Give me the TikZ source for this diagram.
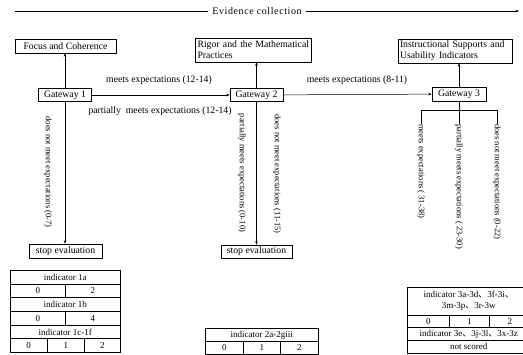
\documentclass[tikz,border=0pt]{standalone}
\usepackage{fontspec}
\setmainfont{Liberation Serif}
\newfontfamily\cjk{Noto Sans CJK SC}
\usetikzlibrary{arrows.meta}
\begin{document}
\begin{tikzpicture}[x=1pt,y=-1pt,
  every node/.style={font=\fontsize{9.75}{11}\selectfont, inner sep=1pt},
  box/.style={draw, line width=0.5pt, inner sep=2pt},
  arr/.style={-{Stealth[length=3.5pt,width=2.6pt]}, line width=0.5pt},
  ln/.style={line width=0.5pt},
  vlab/.style={rotate=-90, inner sep=0pt, font=\fontsize{8.5}{10}\selectfont},
  cell/.style={draw, line width=0.5pt, anchor=north west, inner sep=0pt,
    font=\fontsize{9}{11}\selectfont},
]
\useasboundingbox (0,0) rectangle (523,355);
\clip (0,0) rectangle (523,355);

% timeline across the top
\coordinate (evs) at (15,11);
\coordinate (eve) at (519,11);
\draw[arr] (evs) -- (eve);
\node[fill=white, inner xsep=4pt, font=\fontsize{10}{12}\selectfont\addfontfeature{LetterSpace=6}]
  (evlab) at (257,11) {Evidence collection};

% criteria boxes
\node[box, minimum width=101, minimum height=14] (focus) at (65.5,46) {Focus and Coherence};
\node[box, text width=112, minimum height=24, align=left] (rigor) at (253.5,50)
  {Rigor and the Mathematical\\Practices};
\node[box, text width=110, minimum height=23, align=left] (isu) at (455,51)
  {Instructional Supports and\\Usability Indicators};

% gateways
\node[box, minimum width=53, minimum height=13] (gw1) at (65,95) {Gateway 1};
\node[box, minimum width=53, minimum height=13] (gw2) at (256.5,95) {Gateway 2};
\node[box, minimum width=54, minimum height=14] (gw3) at (459,94) {Gateway 3};

% stop boxes
\node[box, minimum width=73, minimum height=14] (stop1) at (65.5,251) {stop evaluation};
\node[box, minimum width=71, minimum height=13] (stop2) at (256.5,251.5) {stop evaluation};

% connectors
\draw[arr] (gw1) -- (gw1 |- focus.south);
\draw[arr] (gw2) -- (gw2 |- rigor.south);
\draw[arr] (gw3) -- (gw3 |- isu.south);
\draw[arr] (gw1) -- (gw2);
\draw[arr] (gw2) -- (gw3);
\draw[arr] (gw1) -- (gw1 |- stop1.north);
\draw[arr] (gw2) -- (gw2 |- stop2.north);

% horizontal labels
\node (m12) at (159,80) {meets expectations (12-14)};
\node (p12) at (160,111) {partially\ \ meets expectations (12-14)};
\node (m8) at (357,80) {meets expectations (8-11)};

% vertical labels beside the stop arrows
\node[vlab] (d07) at (48,172) {does not meet expectations (0-7)};
\node[vlab] (p010) at (242,173) {partially meets expectations (0-10)};
\node[vlab] (d1115) at (277,174) {does not meet expectations (11-15)};

% gateway 3 outcomes
\node[vlab, anchor=west] (m3) at (421,124) {meets expectations ( 31-38)};
\node[vlab, anchor=west] (p3) at (459,124) {partially meets expectations ( 23-30)};
\node[vlab, anchor=west] (d3) at (497,124) {does not meet expectations (0-22)};
\coordinate (bus) at (459,110);
\draw[ln] (gw3.south) -- (p3.west);
\draw[ln] (m3.west) -- (m3.west |- bus) -- (d3.west |- bus) -- (d3.west);

% indicator table, gateway 1
\node[cell, minimum width=110, minimum height=13.7] (t1a) at (10,270) {indicator 1a};
\node[cell, minimum width=55, minimum height=13.7] (t1a0) at (10,283.7) {0};
\node[cell, minimum width=55, minimum height=13.7] (t1a2) at (65,283.7) {2};
\node[cell, minimum width=110, minimum height=13.7] (t1b) at (10,297.4) {indicator 1b};
\node[cell, minimum width=55, minimum height=13.7] (t1b0) at (10,311.1) {0};
\node[cell, minimum width=55, minimum height=13.7] (t1b4) at (65,311.1) {4};
\node[cell, minimum width=110, minimum height=13.7] (t1c) at (10,324.8) {indicator 1c-1f};
\node[cell, minimum width=37, minimum height=13.7] (t1c0) at (10,338.5) {0};
\node[cell, minimum width=37, minimum height=13.7] (t1c1) at (47,338.5) {1};
\node[cell, minimum width=36, minimum height=13.7] (t1c2) at (84,338.5) {2};

% indicator table, gateway 2
\node[cell, minimum width=113, minimum height=12.5] (t2a) at (205,328.5) {indicator 2a-2giii};
\node[cell, minimum width=38, minimum height=13] (t2a0) at (205,341) {0};
\node[cell, minimum width=37, minimum height=13] (t2a1) at (243,341) {1};
\node[cell, minimum width=38, minimum height=13] (t2a2) at (280,341) {2};

% indicator table, gateway 3
\node[cell, minimum width=123, minimum height=28, align=center] (t3a) at (407,287)
  {indicator 3a-3d{\cjk 、}3f-3i{\cjk 、}\\3m-3p{\cjk 、}3r-3w};
\node[cell, minimum width=42, minimum height=12.5] (t3a0) at (407,315) {0};
\node[cell, minimum width=40, minimum height=12.5] (t3a1) at (449,315) {1};
\node[cell, minimum width=41, minimum height=12.5] (t3a2) at (489,315) {2};
\node[cell, minimum width=123, minimum height=12.5] (t3b) at (407,327.5)
  {indicator 3e{\cjk 、}3j-3l{\cjk 、}3x-3z};
\node[cell, minimum width=123, minimum height=13] (t3c) at (407,340) {not scored};
\end{tikzpicture}
\end{document}
